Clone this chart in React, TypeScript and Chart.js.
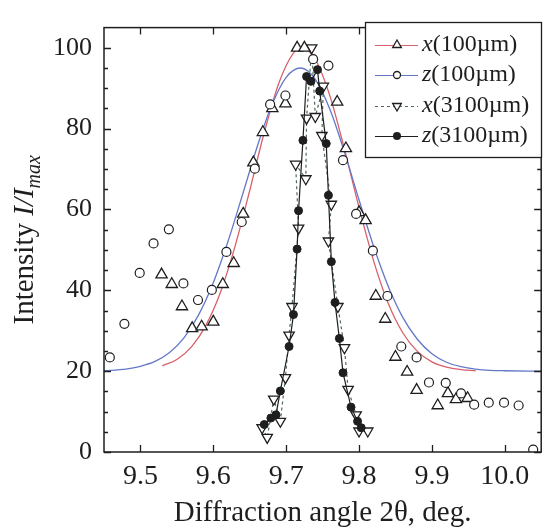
import React, { useEffect, useRef } from "react";
import { Chart, registerables } from "chart.js";

Chart.register(...registerables);

// ---- axis ticks ----
const xTickValues = [9.5, 9.6, 9.7, 9.8, 9.9, 10.0];
const xTickLabels = ["9.5", "9.6", "9.7", "9.8", "9.9", "10.0"];
const yTickValues = [0, 20, 40, 60, 80, 100];
const yTickLabels = ["0", "20", "40", "60", "80", "100"];
const yMinorValues = [5, 10, 15, 25, 30, 35, 45, 50, 55, 65, 70, 75, 85, 90, 95];

// ---- fitted curves ----
const redCurveX = [9.53, 9.55, 9.57, 9.59, 9.61, 9.63, 9.65, 9.67, 9.69, 9.71, 9.722, 9.74, 9.76, 9.78, 9.8, 9.82, 9.84, 9.86, 9.88, 9.9, 9.92, 9.94, 9.96];
const redCurveY = [21.3, 22.9, 26.0, 31.4, 39.6, 51.0, 64.7, 79.1, 91.3, 98.7, 100, 97.1, 88.1, 74.9, 60.5, 47.3, 36.8, 29.5, 24.9, 22.3, 21.0, 20.4, 20.1];

const blueCurveX = [9.45, 9.48, 9.5, 9.52, 9.54, 9.56, 9.58, 9.6, 9.62, 9.64, 9.66, 9.68, 9.7, 9.72, 9.74, 9.76, 9.78, 9.8, 9.82, 9.84, 9.86, 9.88, 9.9, 9.92, 9.94, 9.96, 9.98, 10.0, 10.05];
const blueCurveY = [20.1, 20.5, 21.2, 22.4, 24.6, 28.3, 34.0, 41.9, 52.0, 63.6, 75.4, 85.7, 92.7, 95.0, 92.2, 84.8, 74.2, 62.4, 50.9, 41.0, 33.3, 27.9, 24.3, 22.2, 21.1, 20.5, 20.2, 20.1, 20.0];

// ---- measured points ----
const x100X = [9.529, 9.543, 9.557, 9.571, 9.584, 9.6, 9.613, 9.628, 9.641, 9.655, 9.668, 9.681, 9.699, 9.715, 9.725, 9.77, 9.782, 9.8, 9.809, 9.823, 9.836, 9.85, 9.866, 9.879, 9.908, 9.922, 9.933, 9.949];
const x100Y = [43.9, 41.5, 36.0, 30.6, 31.0, 32.2, 41.5, 46.7, 58.9, 71.6, 79.1, 85.0, 86.2, 100, 100, 86.6, 75.1, 59.3, 57.3, 38.6, 32.9, 23.5, 19.8, 15.3, 11.5, 14.5, 13.0, 13.3];

const z100X = [9.458, 9.478, 9.499, 9.518, 9.539, 9.559, 9.579, 9.598, 9.618, 9.639, 9.657, 9.678, 9.699, 9.737, 9.758, 9.778, 9.796, 9.819, 9.839, 9.858, 9.879, 9.896, 9.919, 9.94, 9.958, 9.978, 9.999, 10.019, 10.039];
const z100Y = [23.4, 31.7, 44.3, 51.6, 55.1, 41.7, 37.6, 40.1, 49.5, 56.9, 70.1, 86.0, 88.2, 97.2, 95.6, 72.2, 58.9, 49.8, 38.6, 26.1, 23.4, 17.2, 17.1, 14.5, 11.7, 12.2, 12.2, 11.5, 0.6];

const x3100X = [9.667, 9.674, 9.683, 9.692, 9.699, 9.704, 9.708, 9.717, 9.713, 9.727, 9.728, 9.735, 9.74, 9.751, 9.749, 9.762, 9.758, 9.771, 9.78, 9.785, 9.796, 9.8, 9.812];
const x3100Y = [6.0, 3.6, 13.1, 7.6, 18.4, 28.9, 36.0, 55.4, 71.2, 67.6, 82.6, 100, 83.0, 90.5, 78.3, 61.3, 52.2, 36.0, 25.8, 15.5, 9.2, 5.2, 5.2];

const z3100X = [9.67, 9.679, 9.686, 9.692, 9.704, 9.71, 9.715, 9.717, 9.723, 9.728, 9.734, 9.743, 9.746, 9.755, 9.758, 9.762, 9.767, 9.773, 9.778, 9.789, 9.798, 9.803];
const z3100Y = [6.8, 8.4, 9.2, 15.1, 26.1, 34.0, 50.2, 59.7, 77.1, 92.9, 91.7, 94.6, 89.3, 76.3, 63.5, 47.1, 37.0, 28.1, 19.6, 11.1, 7.6, 6.0];

const legendLabels = ["(100µm)", "(100µm)", "(3100µm)", "(3100µm)"];
const legendPrefixes = ["x", "z", "x", "z"];

const SERIF = "'Liberation Serif', 'Times New Roman', serif";
const RED = "#d8606a";
const BLUE = "#6478c8";
const DASH = "#4f6a58";
const INK = "#1e1e1e";

const pts = (xs: number[], ys: number[]) => xs.map((x, i) => ({ x, y: ys[i] }));

function drawMarker(ctx: CanvasRenderingContext2D, kind: string, x: number, y: number, r: number) {
  ctx.save();
  ctx.lineWidth = 1.3;
  ctx.strokeStyle = INK;
  ctx.beginPath();
  if (kind === "tri" || kind === "dtri") {
    const s = kind === "tri" ? 1 : -1;
    const h = (Math.sqrt(3) / 2) * r;
    ctx.moveTo(x, y - s * r);
    ctx.lineTo(x + h, y + s * r / 2);
    ctx.lineTo(x - h, y + s * r / 2);
    ctx.closePath();
    ctx.fillStyle = "#fff";
    ctx.fill();
    ctx.stroke();
  } else if (kind === "circ") {
    ctx.arc(x, y, r, 0, Math.PI * 2);
    ctx.fillStyle = "#fff";
    ctx.fill();
    ctx.stroke();
  } else {
    ctx.arc(x, y, r, 0, Math.PI * 2);
    ctx.fillStyle = INK;
    ctx.fill();
  }
  ctx.restore();
}

const framePlugin = {
  id: "frameTicks",
  afterDraw(chart: any) {
    const { ctx, chartArea: a, scales } = chart;
    const xs = scales.x;
    const ys = scales.y;
    ctx.save();
    ctx.strokeStyle = INK;
    ctx.lineWidth = 1.5;
    ctx.strokeRect(a.left, a.top, a.right - a.left, a.bottom - a.top);
    ctx.lineWidth = 1.3;
    ctx.beginPath();
    xTickValues.forEach((v) => {
      const p = Math.round(xs.getPixelForValue(v)) + 0.5;
      ctx.moveTo(p, a.bottom);
      ctx.lineTo(p, a.bottom - 7);
      ctx.moveTo(p, a.top);
      ctx.lineTo(p, a.top + 7);
    });
    const yAll = [...yTickValues.map((v) => [v, 7]), ...yMinorValues.map((v) => [v, 4])];
    yAll.forEach(([v, len]) => {
      const p = Math.round(ys.getPixelForValue(v)) + 0.5;
      ctx.moveTo(a.left, p);
      ctx.lineTo(a.left + len, p);
      ctx.moveTo(a.right, p);
      ctx.lineTo(a.right - len, p);
    });
    ctx.stroke();

    // x axis title
    ctx.fillStyle = INK;
    ctx.font = `29px ${SERIF}`;
    ctx.textAlign = "center";
    ctx.textBaseline = "alphabetic";
    ctx.fillText("Diffraction angle 2θ, deg.", (a.left + a.right) / 2, 521);

    // y axis title (rotated, with italic and subscript)
    const parts = [
      { t: "Intensity ", f: `29px ${SERIF}`, dy: 0 },
      { t: "I/I", f: `italic 29px ${SERIF}`, dy: 0 },
      { t: "max", f: `italic 20px ${SERIF}`, dy: 7 },
    ];
    let total = 0;
    parts.forEach((p) => {
      ctx.font = p.f;
      total += ctx.measureText(p.t).width;
    });
    ctx.save();
    ctx.translate(33, (a.top + a.bottom) / 2);
    ctx.rotate(-Math.PI / 2);
    ctx.textAlign = "left";
    let cx = -total / 2;
    parts.forEach((p) => {
      ctx.font = p.f;
      ctx.fillText(p.t, cx, p.dy);
      cx += ctx.measureText(p.t).width;
    });
    ctx.restore();

    // legend
    const bx = 365, by = 22, bw = 176, bh = 135;
    ctx.fillStyle = "#fff";
    ctx.fillRect(bx, by, bw, bh);
    ctx.lineWidth = 1.3;
    ctx.strokeStyle = INK;
    ctx.strokeRect(bx + 0.5, by + 0.5, bw, bh);
    const rows = [45, 75, 106, 136];
    const styles = [
      { c: RED, d: [] as number[], m: "tri", r: 5 },
      { c: BLUE, d: [] as number[], m: "circ", r: 3.5 },
      { c: DASH, d: [3, 3], m: "dtri", r: 5 },
      { c: INK, d: [] as number[], m: "dot", r: 4 },
    ];
    rows.forEach((ry, i) => {
      const s = styles[i];
      ctx.save();
      ctx.strokeStyle = s.c;
      ctx.lineWidth = 1.2;
      ctx.setLineDash(s.d);
      ctx.beginPath();
      ctx.moveTo(375, ry + 0.5);
      ctx.lineTo(418, ry + 0.5);
      ctx.stroke();
      ctx.restore();
      drawMarker(ctx, s.m, 397, ry, s.r);
      ctx.fillStyle = INK;
      ctx.textBaseline = "middle";
      ctx.textAlign = "left";
      ctx.font = `italic 24px ${SERIF}`;
      ctx.fillText(legendPrefixes[i], 422, ry);
      const w = ctx.measureText(legendPrefixes[i]).width;
      ctx.font = `24px ${SERIF}`;
      ctx.fillText(legendLabels[i], 422 + w, ry);
    });
    ctx.restore();
  },
};

export default function App() {
  const ref = useRef<HTMLCanvasElement>(null);
  useEffect(() => {
    document.body.style.margin = "0";
    const canvas = ref.current!;
    const chart = new Chart(canvas, {
      type: "scatter",
      data: {
        datasets: [
          {
            label: "x(100µm) fit",
            data: pts(redCurveX, redCurveY),
            showLine: true,
            borderColor: RED,
            borderWidth: 1.3,
            pointRadius: 0,
            cubicInterpolationMode: "monotone",
            order: 6,
          },
          {
            label: "z(100µm) fit",
            data: pts(blueCurveX, blueCurveY),
            showLine: true,
            borderColor: BLUE,
            borderWidth: 1.3,
            pointRadius: 0,
            cubicInterpolationMode: "monotone",
            order: 5,
          },
          {
            label: "x(3100µm)",
            data: pts(x3100X, x3100Y),
            showLine: true,
            borderColor: DASH,
            borderDash: [3, 3],
            borderWidth: 1.2,
            pointStyle: "triangle",
            rotation: 180,
            pointRadius: 6,
            pointBorderColor: INK,
            pointBackgroundColor: "#fff",
            pointBorderWidth: 1.3,
            order: 3,
          },
          {
            label: "z(3100µm)",
            data: pts(z3100X, z3100Y),
            showLine: true,
            borderColor: INK,
            borderWidth: 1.2,
            pointStyle: "circle",
            pointRadius: 4,
            pointBorderColor: INK,
            pointBackgroundColor: INK,
            pointBorderWidth: 1,
            order: 2,
          },
          {
            label: "x(100µm)",
            data: pts(x100X, x100Y),
            showLine: false,
            pointStyle: "triangle",
            pointRadius: 6.5,
            pointBorderColor: INK,
            pointBackgroundColor: "#fff",
            pointBorderWidth: 1.3,
            order: 1,
          },
          {
            label: "z(100µm)",
            data: pts(z100X, z100Y),
            showLine: false,
            pointStyle: "circle",
            pointRadius: 4.5,
            pointBorderColor: INK,
            pointBackgroundColor: "#fff",
            pointBorderWidth: 1.2,
            order: 0,
          },
        ],
      },
      options: {
        responsive: false,
        animation: false,
        devicePixelRatio: 1,
        layout: { padding: { left: 0, top: 9, right: 4, bottom: 0 } },
        plugins: { legend: { display: false }, tooltip: { enabled: false } },
        scales: {
          x: {
            type: "linear",
            min: 9.45,
            max: 10.05,
            grid: { display: false, drawTicks: false },
            border: { display: false },
            afterBuildTicks: (s: any) => {
              s.ticks = xTickValues.map((v) => ({ value: v }));
            },
            afterFit: (s: any) => {
              s.height = 78;
            },
            ticks: {
              padding: 8,
              color: INK,
              font: { family: SERIF, size: 28 },
              callback: (v: any) => {
                const i = xTickValues.findIndex((t) => Math.abs(t - Number(v)) < 1e-6);
                return i >= 0 ? xTickLabels[i] : "";
              },
            },
          },
          y: {
            type: "linear",
            min: 0,
            max: 105,
            grid: { display: false, drawTicks: false },
            border: { display: false },
            afterBuildTicks: (s: any) => {
              s.ticks = yTickValues.map((v) => ({ value: v }));
            },
            afterFit: (s: any) => {
              s.width = 104;
            },
            ticks: {
              padding: 12,
              color: INK,
              font: { family: SERIF, size: 26 },
              callback: (v: any) => {
                const i = yTickValues.indexOf(Number(v));
                return i >= 0 ? yTickLabels[i] : "";
              },
            },
          },
        },
      },
      plugins: [framePlugin],
    } as any);
    return () => chart.destroy();
  }, []);
  return (
    <div style={{ width: 549, height: 530, background: "#fff" }}>
      <canvas ref={ref} width={549} height={530} style={{ display: "block" }} />
    </div>
  );
}
